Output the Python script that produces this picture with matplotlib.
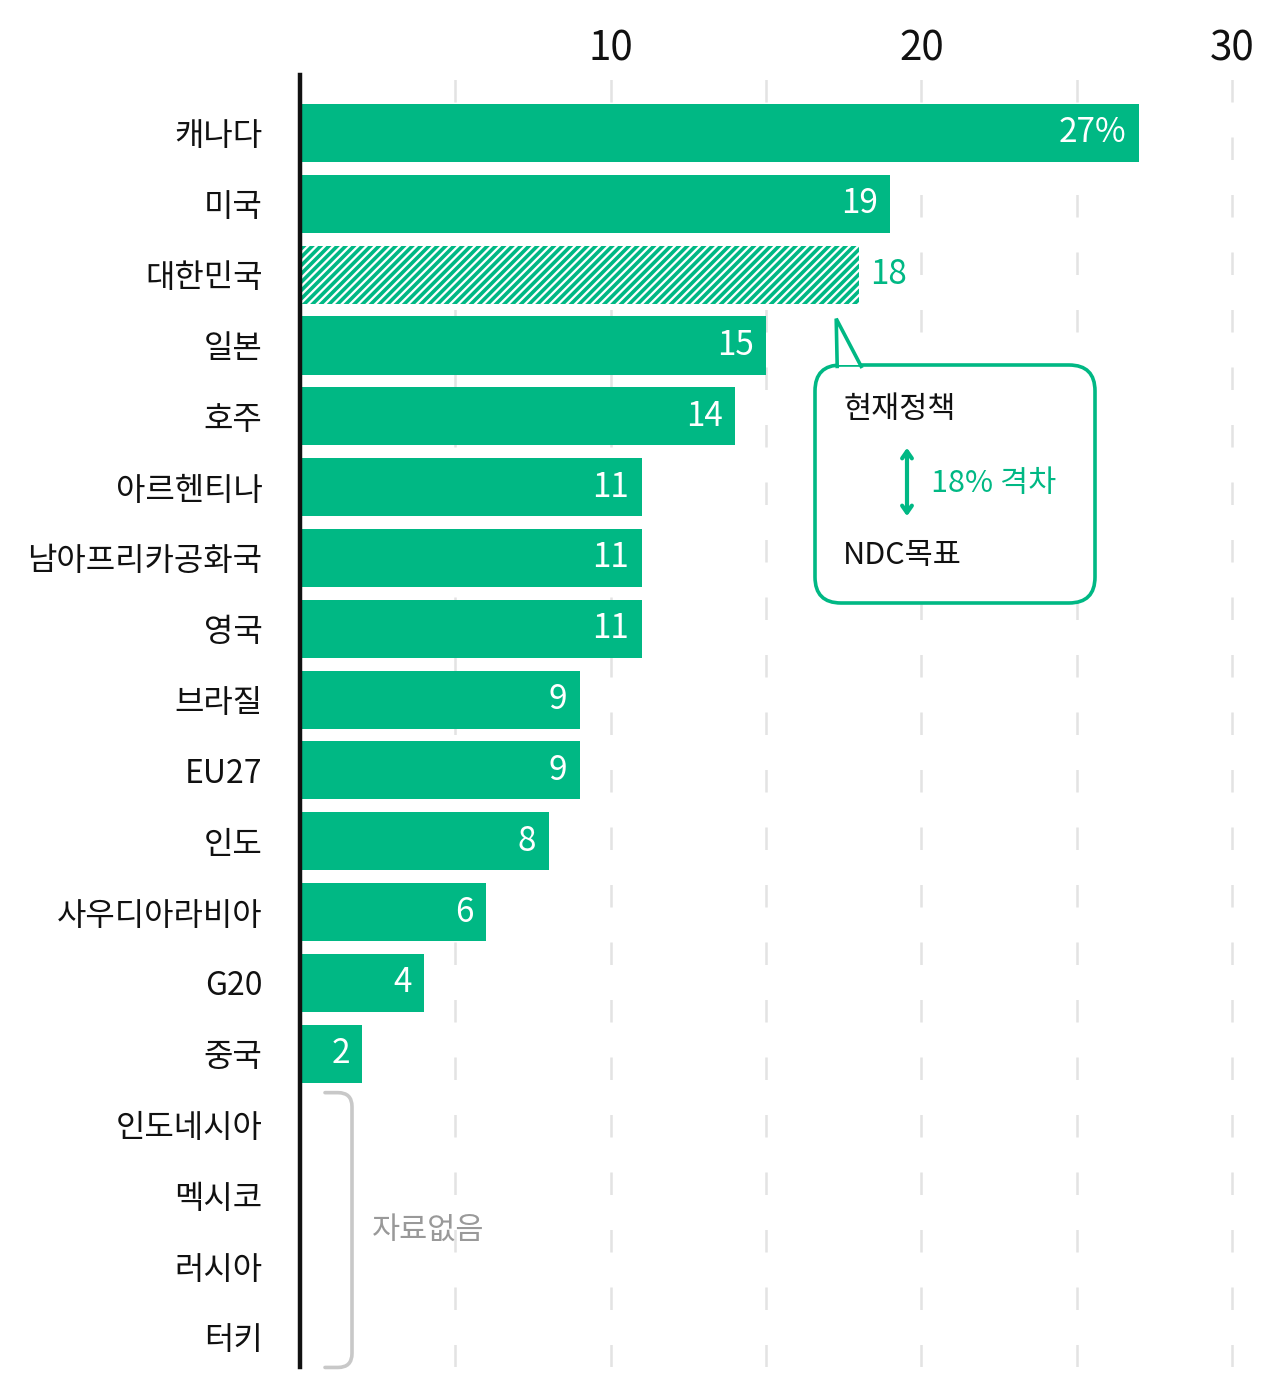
import matplotlib
matplotlib.use("Agg")
import matplotlib.pyplot as plt
from matplotlib.patches import FancyBboxPatch, Polygon
from matplotlib.path import Path
from matplotlib.patches import PathPatch

plt.rcParams['font.family'] = ['Noto Sans CJK KR', 'DejaVu Sans']
plt.rcParams['font.weight'] = 'medium'
plt.rcParams['hatch.linewidth'] = 2.6

# ---- data ----
countries = ["캐나다", "미국", "대한민국", "일본", "호주", "아르헨티나", "남아프리카공화국",
             "영국", "브라질", "EU27", "인도", "사우디아라비아", "G20", "중국",
             "인도네시아", "멕시코", "러시아", "터키"]
values = [27, 19, 18, 15, 14, 11, 11, 11, 9, 9, 8, 6, 4, 2, None, None, None, None]
value_labels = ["27%", "19", "18", "15", "14", "11", "11", "11", "9", "9", "8", "6", "4", "2",
                None, None, None, None]
highlight = "대한민국"
x_ticks = [10, 20, 30]
grid_x = [5, 10, 15, 20, 25, 30]
no_data_label = "자료없음"
callout_top = "현재정책"
callout_gap = "18% 격차"
callout_bottom = "NDC목표"

GREEN = "#00B884"
GRID = "#E3E3E3"
GRAY = "#999999"

W, H = 1280, 1393
fig = plt.figure(figsize=(W / 100, H / 100), dpi=100)

# axes placement (pixels): x0 at 300, 30 at 1232 ; top 75, bottom 1367
px_per_unit = (1232 - 300) / 30.0
x_max = (1255 - 300) / px_per_unit
ax_left, ax_right = 300, 1255
ax_top, ax_bottom = 75, 1367
ax = fig.add_axes([ax_left / W, 1 - ax_bottom / H, (ax_right - ax_left) / W, (ax_bottom - ax_top) / H])

row_px = (1337 - 133) / 17.0
y_top = -(133 - ax_top) / row_px
y_bot = (ax_bottom - 133) / row_px
ax.set_xlim(0, x_max)
ax.set_ylim(y_bot, y_top)

# gridlines
for gx in grid_x:
    ax.axvline(gx, color=GRID, lw=1.8, dashes=(9, 14), zorder=0)

bar_h = 0.82
for i, (c, v) in enumerate(zip(countries, values)):
    if v is None:
        continue
    if c == highlight:
        ax.barh(i, v, height=bar_h, color="white", edgecolor=GREEN, hatch="////",
                linewidth=0, zorder=2)
    else:
        ax.barh(i, v, height=bar_h, color=GREEN, linewidth=0, zorder=2)

for i, (c, v, lab) in enumerate(zip(countries, values, value_labels)):
    if v is None:
        continue
    if c == highlight:
        ax.annotate(lab, (v, i), xytext=(8, 0), textcoords="offset points",
                    ha="left", va="center", color=GREEN, fontsize=24, zorder=3)
    else:
        ax.annotate(lab, (v, i), xytext=(-9, 0), textcoords="offset points",
                    ha="right", va="center", color="white", fontsize=24, zorder=3)

# axes styling
for s in ["top", "right", "bottom"]:
    ax.spines[s].set_visible(False)
ax.spines["left"].set_linewidth(3.2)
ax.spines["left"].set_color("#111111")
ax.spines["left"].set_zorder(4)

ax.set_yticks(range(len(countries)))
ax.set_yticklabels(countries, fontsize=23, color="#111111")
ax.tick_params(axis="y", length=0, pad=27)
ax.xaxis.tick_top()
ax.set_xticks(x_ticks)
ax.set_xticklabels([str(t) for t in x_ticks], fontsize=29, color="#111111")
ax.tick_params(axis="x", length=0, pad=4)

# ---- no data bracket ----
nd_idx = [i for i, v in enumerate(values) if v is None]
y0 = nd_idx[0] - 0.45
y1 = nd_idx[-1] + 0.43
bx0 = 25 / px_per_unit
bx1 = 52 / px_per_unit
rx = 14 / px_per_unit
ry = 14 / row_px
verts = [(bx0, y0), (bx1 - rx, y0), (bx1, y0), (bx1, y0 + ry),
         (bx1, y1 - ry), (bx1, y1), (bx1 - rx, y1), (bx0, y1)]
codes = [Path.MOVETO, Path.LINETO, Path.CURVE3, Path.CURVE3,
         Path.LINETO, Path.CURVE3, Path.CURVE3, Path.LINETO]
ax.add_patch(PathPatch(Path(verts, codes), fill=False, edgecolor="#C8C8C8", lw=2.6,
                       capstyle="round", zorder=3, clip_on=False))
ax.text(72 / px_per_unit, (nd_idx[0] + nd_idx[-1]) / 2, no_data_label, ha="left",
        va="center", fontsize=22, color=GRAY)

# ---- callout ----
ki = countries.index(highlight)
kv = values[ki]
bx_left = (815 - 300) / px_per_unit
bx_right = (1095 - 300) / px_per_unit
by_top = (365 - 133) / row_px
by_bot = (603 - 133) / row_px
aspect = px_per_unit / row_px
box = FancyBboxPatch((bx_left, by_top), bx_right - bx_left, by_bot - by_top,
                     boxstyle="round,pad=0,rounding_size=%f" % (26 / px_per_unit),
                     mutation_aspect=aspect, facecolor="white", edgecolor=GREEN,
                     lw=2.6, zorder=5)
ax.add_patch(box)
tip = (kv - 23 / px_per_unit, ki + bar_h / 2 + 15 / row_px)
base_l = (kv - 22 / px_per_unit, by_top)
base_r = (kv + 2 / px_per_unit, by_top)
ax.add_patch(Polygon([base_l, tip, base_r], closed=True, facecolor="white",
                     edgecolor="none", zorder=6))
ax.plot([base_l[0], tip[0], base_r[0]], [base_l[1] + 0.02, tip[1], base_r[1] + 0.02],
        color=GREEN, lw=2.6, solid_joinstyle="miter", zorder=7)

tx = (843 - 300) / px_per_unit
ax.text(tx, (410 - 133) / row_px, callout_top, ha="left", va="center",
        fontsize=22, color="#111111", zorder=8)
ax.text(tx, (555 - 133) / row_px, callout_bottom, ha="left", va="center",
        fontsize=22, color="#111111", zorder=8)
ax.annotate("", xy=((907 - 300) / px_per_unit, (445 - 133) / row_px),
            xytext=((907 - 300) / px_per_unit, (519 - 133) / row_px),
            arrowprops=dict(arrowstyle="<->,head_length=0.5,head_width=0.35",
                            color=GREEN, lw=3), zorder=8)
ax.text((931 - 300) / px_per_unit, (483 - 133) / row_px, callout_gap, ha="left",
        va="center", fontsize=22, color=GREEN, zorder=8)

fig.savefig("out.png", dpi=100, facecolor="white")
